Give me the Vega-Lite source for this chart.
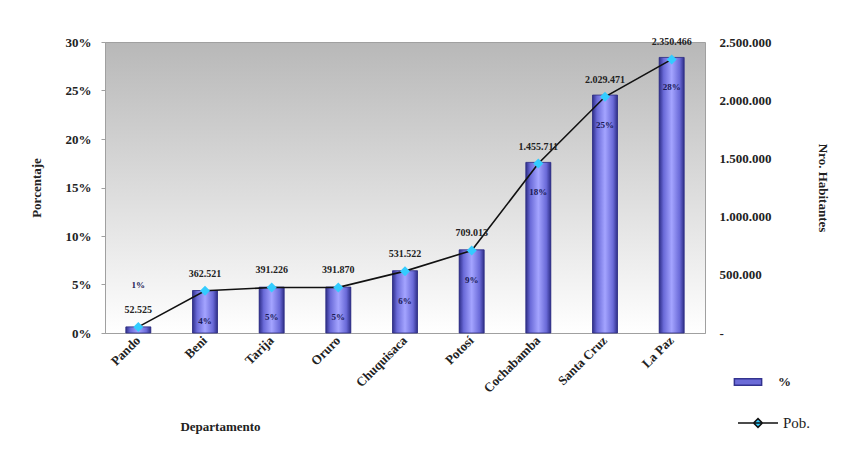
{
  "$schema": "https://vega.github.io/schema/vega-lite/v6.json",
  "width": 600,
  "height": 291,
  "autosize": "none",
  "padding": {"left": 105, "top": 42, "right": 141, "bottom": 126},
  "background": "white",
  "config": {
    "locale": {"number": {"decimal": ",", "thousands": ".", "grouping": [3], "currency": ["$", ""]}},
    "view": {
      "stroke": "#a0a0a0",
      "strokeWidth": 1,
      "fill": {"gradient": "linear", "x1": 0, "y1": 0, "x2": 0, "y2": 1, "stops": [{"offset": 0, "color": "#b8b8b8"}, {"offset": 1, "color": "#ffffff"}]}
    },
    "font": "Liberation Serif",
    "axis": {
      "labelFont": "Liberation Serif",
      "labelFontWeight": "bold",
      "labelColor": "#222",
      "titleFont": "Liberation Serif",
      "titleFontWeight": "bold",
      "titleColor": "#222",
      "titleFontSize": 13,
      "labelFontSize": 13,
      "grid": false,
      "domainColor": "#a0a0a0",
      "tickColor": "#a0a0a0",
      "tickSize": 4,
      "labelOverlap": false
    },
    "legend": {
      "labelFont": "Liberation Serif",
      "labelFontSize": 14,
      "labelFontWeight": "bold",
      "labelColor": "#222"
    }
  },
  "data": {
    "values": [
      {"dept": "Pando", "pct": 0.0063, "pob": 52525, "pctLabel": "1%"},
      {"dept": "Beni", "pct": 0.0438, "pob": 362521, "pctLabel": "4%"},
      {"dept": "Tarija", "pct": 0.0473, "pob": 391226, "pctLabel": "5%"},
      {"dept": "Oruro", "pct": 0.0474, "pob": 391870, "pctLabel": "5%"},
      {"dept": "Chuquisaca", "pct": 0.0642, "pob": 531522, "pctLabel": "6%"},
      {"dept": "Potosí", "pct": 0.0857, "pob": 709013, "pctLabel": "9%"},
      {"dept": "Cochabamba", "pct": 0.1759, "pob": 1455711, "pctLabel": "18%"},
      {"dept": "Santa Cruz", "pct": 0.2453, "pob": 2029471, "pctLabel": "25%"},
      {"dept": "La Paz", "pct": 0.2841, "pob": 2350466, "pctLabel": "28%"}
    ]
  },
  "encoding": {
    "x": {
      "field": "dept",
      "type": "nominal",
      "sort": null,
      "scale": {"paddingInner": 0, "paddingOuter": 0},
      "axis": {
        "title": "Departamento",
        "labelAngle": -45,
        "labelAlign": "right",
        "labelBaseline": "middle",
        "labelFontSize": 13,
        "labelPadding": 5,
        "titleX": 115,
        "titleY": 87,
        "titleAnchor": null,
        "titleAlign": "center",
        "ticks": false
      }
    }
  },
  "layer": [
    {
      "encoding": {
        "y": {
          "field": "pct",
          "type": "quantitative",
          "scale": {"domain": [0, 0.3], "nice": false},
          "axis": {"title": "Porcentaje", "format": ".0%", "values": [0, 0.05, 0.1, 0.15, 0.2, 0.25, 0.3], "labelPadding": 10, "titlePadding": 22}
        }
      },
      "layer": [
        {
          "mark": {"type": "bar", "size": 25},
          "encoding": {
            "fill": {
              "datum": "%",
              "type": "nominal",
              "scale": {"domain": ["%"], "range": ["#6c6cd8"]},
              "legend": {
                "title": null,
                "orient": "none",
                "legendX": 633,
                "legendY": 330,
                "symbolType": "M-1.5,-0.35H1.5V0.35H-1.5Z",
                "symbolSize": 330,
                "symbolStrokeColor": "#33338f",
                "labelOffset": 20,
                "labelFontSize": 13
              }
            }
          }
        },
        {
          "mark": {
            "type": "bar",
            "size": 25,
            "stroke": "#2e2e80",
            "strokeWidth": 0.8,
            "fill": {"gradient": "linear", "x1": 0, "y1": 0, "x2": 1, "y2": 0, "stops": [
              {"offset": 0, "color": "#2e2e88"},
              {"offset": 0.18, "color": "#6a6ad8"},
              {"offset": 0.5, "color": "#a4a4ff"},
              {"offset": 0.82, "color": "#6a6ad8"},
              {"offset": 1, "color": "#2e2e88"}
            ]}
          },
          "encoding": {}
        },
        {
          "transform": [{"filter": "datum.pct > 0.02"}],
          "mark": {"type": "text", "dy": 30, "baseline": "middle", "fontSize": 9, "fontWeight": "bold", "color": "#1a1a55", "font": "Liberation Serif"},
          "encoding": {"text": {"field": "pctLabel"}}
        },
        {
          "transform": [{"filter": "datum.pct <= 0.02"}],
          "mark": {"type": "text", "dy": -42, "baseline": "middle", "fontSize": 9, "fontWeight": "bold", "color": "#1a1a55", "font": "Liberation Serif"},
          "encoding": {"text": {"field": "pctLabel"}}
        }
      ]
    },
    {
      "encoding": {
        "y": {
          "field": "pob",
          "type": "quantitative",
          "scale": {"domain": [0, 2500000], "nice": false},
          "axis": {
            "orient": "right",
            "title": "Nro. Habitantes",
            "values": [0, 500000, 1000000, 1500000, 2000000, 2500000],
            "labelExpr": "datum.value == 0 ? '-' : format(datum.value, ',')",
            "labelFontSize": 13,
            "labelPadding": 14,
            "titlePadding": 44,
            "domain": false,
            "ticks": false
          }
        }
      },
      "layer": [
        {
          "mark": {"type": "line", "strokeWidth": 1.6},
          "encoding": {
            "stroke": {
              "datum": "Pob.",
              "type": "nominal",
              "scale": {"domain": ["Pob."], "range": ["#111111"]},
              "legend": {
                "title": null,
                "orient": "none",
                "legendX": 632,
                "legendY": 360,
                "symbolType": "M-1,0H1M0,-0.22L0.22,0L0,0.22L-0.22,0Z",
                "symbolSize": 1600,
                "symbolStrokeWidth": 1.5,
                "symbolFillColor": "#33ccff",
                "labelFontWeight": "normal",
                "labelFontSize": 15,
                "encode": {"symbols": {"update": {"fill": {"value": "#33ccff"}}}}
              }
            }
          }
        },
        {
          "mark": {"type": "point", "shape": "diamond", "filled": true, "color": "#33ccff", "size": 100, "opacity": 1},
          "encoding": {}
        },
        {
          "mark": {"type": "text", "dy": -17, "baseline": "middle", "fontSize": 10, "fontWeight": "bold", "color": "#222", "font": "Liberation Serif"},
          "encoding": {"text": {"field": "pob", "type": "quantitative", "format": ","}}
        }
      ]
    }
  ],
  "resolve": {"scale": {"y": "independent", "fill": "independent", "stroke": "independent"}}
}
